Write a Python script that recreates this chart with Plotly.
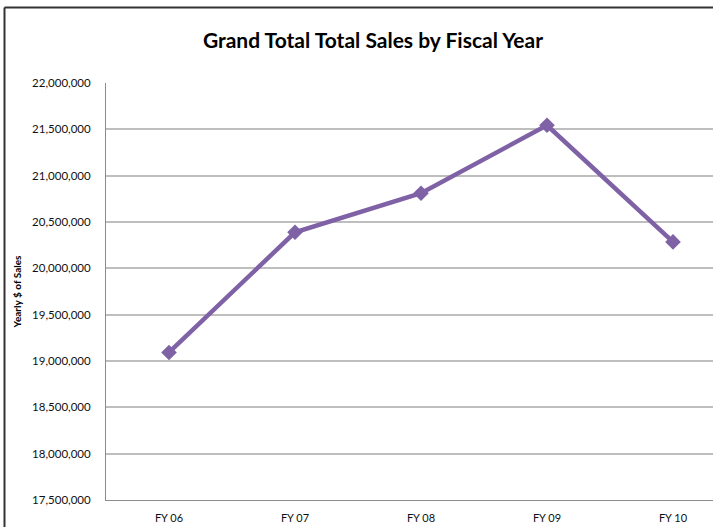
import plotly.graph_objects as go

categories = ["FY 06", "FY 07", "FY 08", "FY 09", "FY 10"]
sales = [19092000, 20389000, 20810000, 21544000, 20285000]
y_ticks = [17500000, 18000000, 18500000, 19000000, 19500000, 20000000,
           20500000, 21000000, 21500000, 22000000]
y_tick_labels = [f"{v:,}" for v in y_ticks]

W, H = 713, 527
L, T, B, R = 106, 83, 27, 0
pw = W - L - R
ph = H - T - B

fig = go.Figure()
fig.add_trace(go.Scatter(
    x=list(range(len(categories))), y=sales, mode="lines+markers",
    line=dict(color="#7F62A6", width=4.5),
    marker=dict(symbol="diamond", size=12, color="#7F62A6"),
    hoverinfo="skip", showlegend=False,
))

font = "Lato, Carlito, 'DejaVu Sans', sans-serif"
fig.update_layout(
    width=W, height=H,
    margin=dict(l=L, r=R, t=T, b=B),
    paper_bgcolor="white", plot_bgcolor="white",
    font=dict(family=font, size=11, color="#111111"),
    title=dict(text="<b>Grand Total Total Sales by Fiscal Year</b>",
               x=373 / W, xref="container", xanchor="center",
               y=1 - 41 / H, yref="container", yanchor="middle",
               font=dict(size=21, family=font, color="#000000")),
    xaxis=dict(
        tickmode="array", tickvals=list(range(len(categories))), ticktext=categories,
        range=[-0.5, -0.5 + pw / 126.0],
        showgrid=False, zeroline=False,
        showline=True, linecolor="#8C8C8C", linewidth=1,
        ticks="", ticklabelstandoff=8,
        tickfont=dict(size=11, color="#111111"),
    ),
    yaxis=dict(
        range=[17500000, 22000000],
        tickmode="array", tickvals=y_ticks, ticktext=y_tick_labels,
        showgrid=True, gridcolor="#BEBEBE", gridwidth=1.5,
        zeroline=False,
        showline=True, linecolor="#8C8C8C", linewidth=1,
        ticks="", ticklabelstandoff=12,
        tickfont=dict(size=11.5, color="#111111"),
        title=dict(text="<b>Yearly $ of Sales</b>", standoff=8,
                   font=dict(size=10, color="#000000")),
    ),
    shapes=[
        dict(type="line", xref="paper", yref="paper",
             x0=(4.5 - L) / pw, x1=(W + 5 - L) / pw,
             y0=1 + (T - 7.5) / ph, y1=1 + (T - 7.5) / ph,
             line=dict(color="#333333", width=2)),
        dict(type="line", xref="paper", yref="paper",
             x0=(4.5 - L) / pw, x1=(4.5 - L) / pw,
             y0=1 + (T - 7.5) / ph, y1=-(B + 5) / ph,
             line=dict(color="#333333", width=2)),
    ],
)

fig.write_html(
    "out.html",
    config={"displayModeBar": False},
    post_script="document.body.style.margin='0';document.body.style.overflow='hidden';",
)
